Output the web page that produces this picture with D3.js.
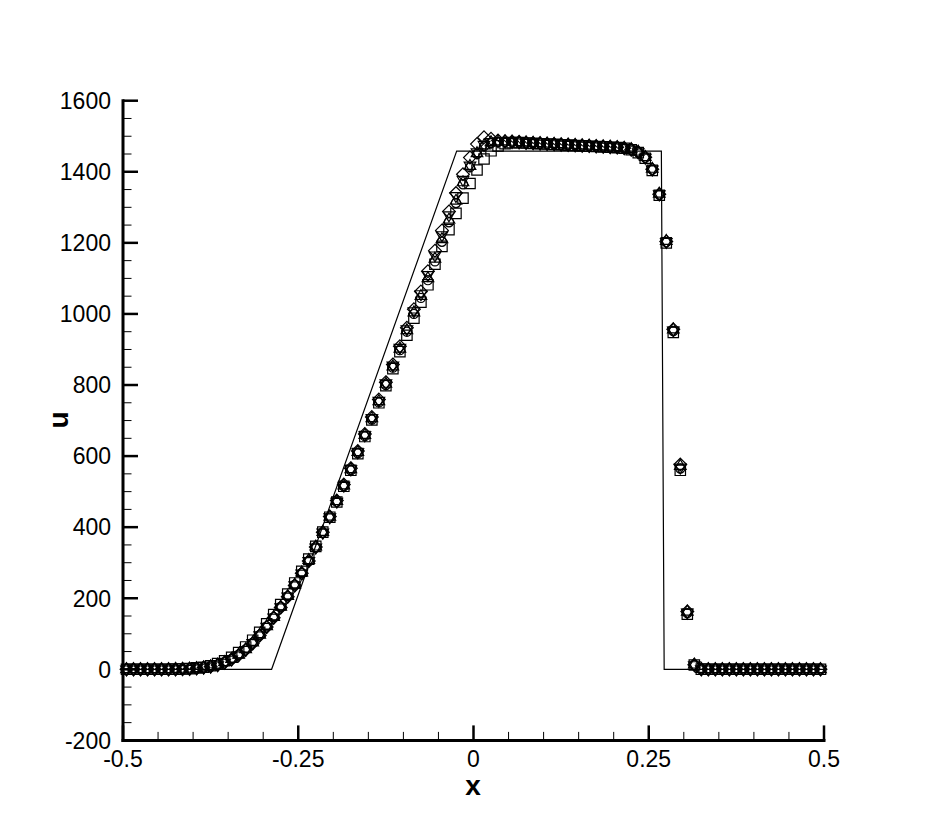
<!DOCTYPE html>
<html><head><meta charset="utf-8">
<script src="https://cdn.jsdelivr.net/npm/d3@7"></script>
<style>body{margin:0;background:#fff}svg{display:block}</style>
</head><body>
<script>
// Cell centres
const xCells = [-0.495,-0.485,-0.475,-0.465,-0.455,-0.445,-0.435,-0.425,-0.415,-0.405,
-0.395,-0.385,-0.375,-0.365,-0.355,-0.345,-0.335,-0.325,-0.315,-0.305,
-0.295,-0.285,-0.275,-0.265,-0.255,-0.245,-0.235,-0.225,-0.215,-0.205,
-0.195,-0.185,-0.175,-0.165,-0.155,-0.145,-0.135,-0.125,-0.115,-0.105,
-0.095,-0.085,-0.075,-0.065,-0.055,-0.045,-0.035,-0.025,-0.015,-0.005,
0.005,0.015,0.025,0.035,0.045,0.055,0.065,0.075,0.085,0.095,
0.105,0.115,0.125,0.135,0.145,0.155,0.165,0.175,0.185,0.195,
0.205,0.215,0.225,0.235,0.245,0.255,0.265,0.275,0.285,0.295,
0.305,0.315,0.325,0.335,0.345,0.355,0.365,0.375,0.385,0.395,
0.405,0.415,0.425,0.435,0.445,0.455,0.465,0.475,0.485,0.495];

const uSquare = [0,0,0,0,0,0,0,0.5,1,2,
4,6,10,16,24,34,47,63,82,104,
128,154,182,212,243,276,310,346,386,428,
471,515,560,607,655,702,750,798,846,894,
940,988,1033,1082,1140,1190,1237,1283,1326,1367,
1405,1436,1459,1473,1479,1482,1482,1481,1480,1479,
1478,1477,1476,1475,1474,1473,1472,1471,1470,1469,
1468,1466,1462,1454,1438,1404,1334,1200,948,560,
155,12,0.5,0,0,0,0,0,0,0,
0,0,0,0,0,0,0,0,0,0];

const uCircle = [0,0,0,0,0,0,0,0.5,1,1.5,
3,5,8,13,20,29,41,56,75,97,
121,147,176,206,238,271,305,343,384,427,
471,515,560,608,656,703,751,800,849,898,
950,1000,1045,1095,1148,1203,1258,1312,1365,1413,
1450,1472,1481,1484,1484,1484,1483,1482,1481,1480,
1479,1478,1477,1476,1475,1474,1473,1472,1471,1470,
1469,1467,1463,1455,1440,1406,1336,1202,952,565,
158,12,0.5,0,0,0,0,0,0,0,
0,0,0,0,0,0,0,0,0,0];

const uDelta = [0,0,0,0,0,0,0,0.5,1,1.5,
3,5,8,13,20,29,41,56,75,97,
121,147,176,206,238,272,307,345,386,429,
473,517,563,611,659,706,754,803,852,902,
954,1004,1050,1100,1155,1210,1265,1318,1370,1416,
1452,1474,1483,1485,1485,1484,1483,1482,1481,1480,
1479,1478,1477,1476,1475,1474,1473,1472,1471,1470,
1469,1467,1463,1456,1441,1408,1338,1205,956,572,
162,13,0.5,0,0,0,0,0,0,0,
0,0,0,0,0,0,0,0,0,0];

const uGradient = [0,0,0,0,0,0,0,0.5,1,1.5,
3,5,8,12,19,28,40,55,74,96,
120,146,175,205,237,270,305,343,385,428,
472,517,563,611,659,707,756,805,855,905,
957,1008,1056,1110,1165,1222,1278,1332,1378,1418,
1455,1476,1484,1486,1485,1484,1483,1482,1481,1480,
1479,1478,1477,1476,1475,1474,1473,1472,1471,1470,
1469,1467,1463,1455,1440,1407,1337,1203,954,568,
160,12,0.5,0,0,0,0,0,0,0,
0,0,0,0,0,0,0,0,0,0];

const uDiamond = [0,0,0,0,0,0,0,0.5,1,1.5,
3,5,8,12,19,28,40,55,73,95,
119,145,174,204,236,270,305,344,386,430,
475,520,566,614,662,710,759,808,858,909,
961,1013,1063,1120,1178,1235,1288,1340,1393,1440,
1478,1497,1493,1488,1486,1485,1484,1482,1481,1480,
1479,1478,1477,1476,1475,1474,1473,1472,1471,1470,
1469,1467,1463,1455,1441,1407,1337,1204,957,576,
163,13,0.5,0,0,0,0,0,0,0,
0,0,0,0,0,0,0,0,0,0];

// Exact solution (piecewise linear)
const xExact = [-0.5,-0.288,-0.024,0.268,0.272,0.5];
const uExact = [0,0,1458,1458,0,0];

const xMajor = [-0.5,-0.25,0,0.25,0.5];
const xTickLabels = ["-0.5","-0.25","0","0.25","0.5"];
const yMajor = [-200,0,200,400,600,800,1000,1200,1400,1600];
const yTickLabels = ["-200","0","200","400","600","800","1000","1200","1400","1600"];

const W = 937, H = 833;
const svg = d3.select("body").append("svg").attr("width", W).attr("height", H);
const x = d3.scaleLinear().domain([-0.5, 0.5]).range([123, 824]);
const y = d3.scaleLinear().domain([-200, 1600]).range([740.4, 100.7]);

const font = "'Liberation Sans', Arial, Helvetica, sans-serif";

// exact line
const exact = xExact.map((d, i) => [d, uExact[i]]);
svg.append("path")
  .attr("d", d3.line().x(d => x(d[0])).y(d => y(d[1]))(exact))
  .attr("fill", "none").attr("stroke", "#000").attr("stroke-width", 1.2);

// markers
const series = [
  {vals: uSquare, sym: "square"},
  {vals: uGradient, sym: "gradient"},
  {vals: uDelta, sym: "delta"},
  {vals: uCircle, sym: "circle"},
  {vals: uDiamond, sym: "diamond"}
];
function symPath(s) {
  if (s === "square") return "M-5.2,-5.2H5.2V5.2H-5.2Z";
  if (s === "circle") return d3.symbol(d3.symbolCircle, 66)();
  if (s === "delta") return "M0,-6.6L5.8,3.3L-5.8,3.3Z";
  if (s === "gradient") return "M0,6.6L5.8,-3.3L-5.8,-3.3Z";
  if (s === "diamond") return "M0,-6.4L6.4,0L0,6.4L-6.4,0Z";
}
series.forEach(s => {
  svg.append("g").selectAll("path").data(xCells.map((d, i) => [d, s.vals[i]]))
    .join("path")
    .attr("transform", d => `translate(${x(d[0])},${y(d[1])})`)
    .attr("d", symPath(s.sym))
    .attr("fill", "none").attr("stroke", "#000").attr("stroke-width", 1.2);
});

// axes
const ax = svg.append("g");
ax.append("line").attr("x1", 123).attr("x2", 123).attr("y1", y(1600) - 1.5).attr("y2", y(-200) + 1.5)
  .attr("stroke", "#000").attr("stroke-width", 3);
ax.append("line").attr("x1", 121.5).attr("x2", 825.5).attr("y1", y(-200)).attr("y2", y(-200))
  .attr("stroke", "#000").attr("stroke-width", 3);

const yMinor = d3.range(-200, 1601, 50).filter(v => v % 200 !== 0);
yMinor.forEach(v => ax.append("line").attr("x1", 123).attr("x2", 131.5).attr("y1", y(v)).attr("y2", y(v))
  .attr("stroke", "#000").attr("stroke-width", 1));
yMajor.forEach(v => ax.append("line").attr("x1", 123).attr("x2", 138).attr("y1", y(v)).attr("y2", y(v))
  .attr("stroke", "#000").attr("stroke-width", 2.5));
const xMinor = d3.range(-0.5, 0.5001, 0.05).filter(v => Math.abs(v * 4 - Math.round(v * 4)) > 1e-6);
xMinor.forEach(v => ax.append("line").attr("x1", x(v)).attr("x2", x(v)).attr("y1", y(-200)).attr("y2", y(-200) - 8.5)
  .attr("stroke", "#000").attr("stroke-width", 1));
xMajor.forEach(v => ax.append("line").attr("x1", x(v)).attr("x2", x(v)).attr("y1", y(-200)).attr("y2", y(-200) - 15)
  .attr("stroke", "#000").attr("stroke-width", 2.5));

yMajor.forEach((v, i) => ax.append("text").attr("x", 111).attr("y", y(v) + 8.3)
  .attr("text-anchor", "end").attr("font-family", font).attr("font-size", 23).text(yTickLabels[i]));
xMajor.forEach((v, i) => ax.append("text").attr("x", x(v)).attr("y", 767)
  .attr("text-anchor", "middle").attr("font-family", font).attr("font-size", 23).text(xTickLabels[i]));

svg.append("text").attr("x", 473).attr("y", 795).attr("text-anchor", "middle")
  .attr("font-family", font).attr("font-weight", "bold").attr("font-size", 28).text("x");
svg.append("text").attr("transform", "translate(68,420) rotate(-90)").attr("text-anchor", "middle")
  .attr("font-family", font).attr("font-weight", "bold").attr("font-size", 28).text("u");
</script>
</body></html>
